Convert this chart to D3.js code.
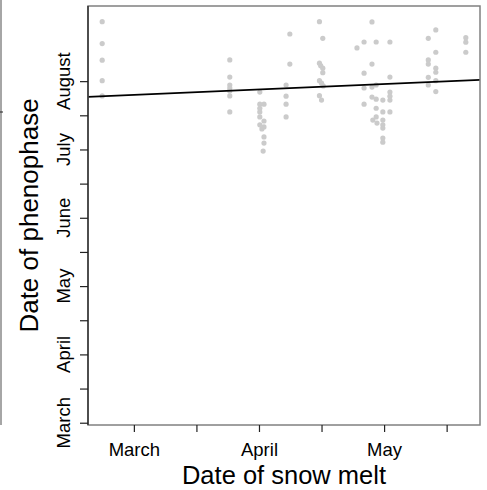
<!DOCTYPE html>
<html>
<head>
<meta charset="utf-8">
<script src="https://cdn.jsdelivr.net/npm/d3@7"></script>
<style>
	body{margin:0;background:#fff;}
	svg{display:block;font-family:"Liberation Sans",Arial,sans-serif;}
</style>
</head>
<body>
<script>
//snow melt date vs date of phenophase, both as day of year

//day of snow melt for each plot
var meltDay=[
	52.4,52.4,52.4,52.4,52.4,
	83,83,83,83,83,83,83,
	90.2,90.2,91.2,90.2,90.2,90.2,91.2,90.2,91.2,90.7,91.2,91.2,91,
	97.4,97.4,96.5,96.5,96.5,96.5,
	104.5,105.3,104.5,104.8,105.3,105.3,104.5,105,105.4,104.5,105,
	113.5,115.2,118.1,121.4,117.1,117.1,115.2,121.4,115.2,117.1,118.1,117.1,118.1,119.7,
	121.4,121.4,121.4,115.2,118.1,119.7,121.4,118.1,117.3,118.3,119.7,119.7,119.7,119.7,119.7,
	130.6,132.4,132.4,130.6,130.6,132.4,132.4,130.6,132.4,130.6,132.4,
	139.6,139.6,139.6
];
//day of phenophase for the same plots
var phenoDay=[
	236.1,226.5,219.2,210.2,203.5,
	219.3,211.8,208.3,207,205.7,203.5,196.5,
	205.2,199.9,199.9,198.1,196.5,194.3,192.5,190.8,189.9,189,185.5,182.8,179.3,
	230.7,217.5,208.3,203.4,199.9,194.3,
	236.1,228.8,217.9,216.8,215.7,213.7,210.2,209.1,207.9,203.6,201.7,
	224.6,227.2,227.2,227.2,236,217.5,213.5,211.8,207,207.4,208.3,203,202.1,201.7,
	205.2,203.4,201.7,199.9,198.1,196.5,196.5,194.3,192.9,191.6,192.9,190.8,189.4,185,183.2,
	228.8,232.5,222.7,219.3,217.5,215.7,213.9,211.7,210.2,208.3,205.4,
	229.1,227.1,222.7
];

//fitted line
var fitIntercept=199.2,
	fitSlope=0.0793;

//axis ticks every 15 days, months named on every other one
var xTicks=[60,75,90,105,120,135],
	yTicks=[60,75,90,105,120,135,150,165,180,195,210];
var monthTicks=[60,90,120,150,180,210],
	monthNames=["March","April","May","June","July","August"];

window.onload=drawChart();

function drawChart(){
	var width=487,
		height=490;

	var left=88,right=480,top=6,bottom=425;

	var svg=d3.select("body")
		.append("svg")
		.attr("width",width)
		.attr("height",height);

	var x=d3.scaleLinear()
		.domain([49,143])
		.range([left,right]);

	var y=d3.scaleLinear()
		.domain([59,243])
		.range([bottom,top]);

	function monthName(d){
		var i=monthTicks.indexOf(d);
		return i<0 ? "" : monthNames[i];
	}

	//edge of the neighbouring panel
	svg.append("line")
		.attr("x1",1).attr("x2",1)
		.attr("y1",0).attr("y2",425)
		.attr("stroke","#888").attr("stroke-width",1.5);
	svg.append("line")
		.attr("x1",0).attr("x2",3)
		.attr("y1",112).attr("y2",112)
		.attr("stroke","#222").attr("stroke-width",1);

	//points
	svg.append("g")
		.selectAll("circle")
		.data(meltDay)
		.enter()
		.append("circle")
		.attr("cx",function(d){ return x(d); })
		.attr("cy",function(d,i){ return y(phenoDay[i]); })
		.attr("r",2.6)
		.attr("fill","#cbcbcb");

	//regression line across the plot region
	var xd=x.domain();
	svg.append("line")
		.attr("x1",x(xd[0]))
		.attr("x2",x(xd[1]))
		.attr("y1",y(fitIntercept+fitSlope*xd[0]))
		.attr("y2",y(fitIntercept+fitSlope*xd[1]))
		.attr("stroke","#000")
		.attr("stroke-width",1.6);

	//box
	svg.append("rect")
		.attr("x",left).attr("y",top)
		.attr("width",right-left).attr("height",bottom-top)
		.attr("fill","none")
		.attr("stroke","#808080")
		.attr("stroke-width",1.5);

	//x axis
	var xAxis=svg.append("g")
		.attr("transform","translate(0,"+bottom+")")
		.call(d3.axisBottom(x)
			.tickValues(xTicks)
			.tickSizeInner(7)
			.tickSizeOuter(0)
			.tickPadding(10.5)
			.tickFormat(monthName));
	xAxis.select(".domain").remove();
	xAxis.selectAll("line").attr("stroke","#222").attr("stroke-width",1.2);
	xAxis.selectAll("text")
		.attr("fill","#000")
		.style("font-size","18.5px")
		.style("font-family","'Liberation Sans',Arial,sans-serif");

	//y axis
	var yAxis=svg.append("g")
		.attr("transform","translate("+left+",0)")
		.call(d3.axisLeft(y)
			.tickValues(yTicks)
			.tickSizeInner(8)
			.tickSizeOuter(0)
			.tickFormat(""));
	yAxis.select(".domain").remove();
	yAxis.selectAll("line").attr("stroke","#222").attr("stroke-width",1.2);
	svg.append("line")
		.attr("x1",left).attr("x2",left)
		.attr("y1",top).attr("y2",bottom)
		.attr("stroke","#222").attr("stroke-width",1.3);

	//rotated month labels on the y axis
	svg.append("g")
		.selectAll("text")
		.data(monthTicks)
		.enter()
		.append("text")
		.attr("transform",function(d){ return "translate(70,"+y(d)+") rotate(-90)"; })
		.attr("text-anchor","middle")
		.style("font-size","18.5px")
		.text(function(d,i){ return monthNames[i]; });

	//axis titles
	svg.append("text")
		.attr("x",(left+right)/2)
		.attr("y",484)
		.attr("text-anchor","middle")
		.style("font-size","25.5px")
		.text("Date of snow melt");

	svg.append("text")
		.attr("transform","translate(38,"+(top+bottom)/2+") rotate(-90)")
		.attr("text-anchor","middle")
		.style("font-size","26px")
		.text("Date of phenophase");
};
</script>
</body>
</html>
